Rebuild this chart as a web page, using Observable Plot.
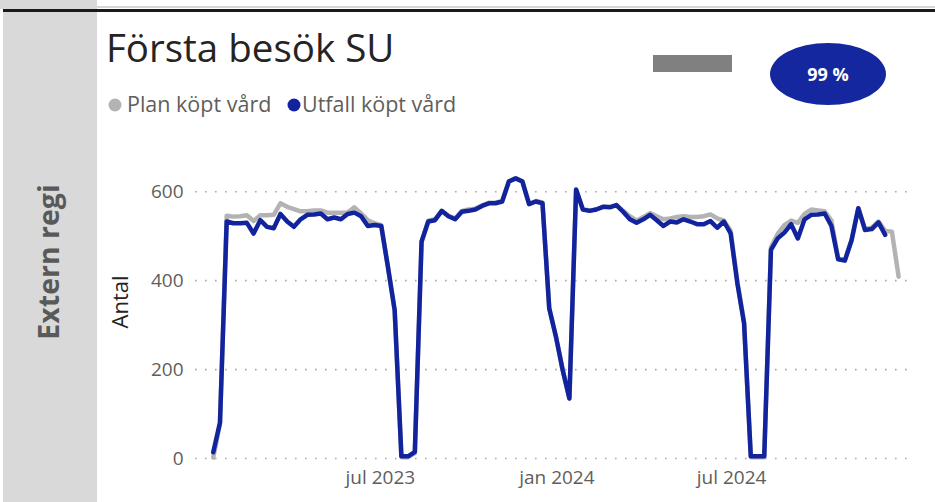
<!DOCTYPE html>
<html><head><meta charset="utf-8">
<script src="https://cdn.jsdelivr.net/npm/d3@7"></script>
<script src="https://cdn.jsdelivr.net/npm/@observablehq/plot@0.6"></script>
<style>
html,body{margin:0;padding:0;width:935px;height:502px;overflow:hidden;background:#fff;font-family:"Open Sans","Segoe UI",sans-serif;}
#page{position:relative;width:935px;height:502px;}
#decor{position:absolute;left:0;top:0;}
#chart{position:absolute;left:97px;top:150px;}
</style></head><body>
<div id="page">
<svg id="decor" width="935" height="502" xmlns="http://www.w3.org/2000/svg">
  <rect x="0" y="0" width="97" height="9" fill="#d9d9d9"/>
  <rect x="97" y="0" width="838" height="6" fill="#ffffff"/>
  <rect x="97" y="6" width="838" height="2" fill="#d6d6d6"/>
  <rect x="3" y="9" width="932" height="3" fill="#1a1a1a"/>
  <rect x="3" y="12" width="94" height="490" fill="#d9d9d9"/>
  <text transform="translate(59,262) rotate(-90)" text-anchor="middle" font-family="Open Sans" font-weight="700" font-size="28.5" fill="#595959">Extern regi</text>
  <text x="106" y="62" font-family="Open Sans" font-weight="400" font-size="38.5" fill="#252423">Första besök SU</text>
  <circle cx="115" cy="105" r="6.5" fill="#b3b3b3"/>
  <text x="127" y="112" font-family="Open Sans" font-size="21.5" fill="#605e5c">Plan köpt vård</text>
  <circle cx="294" cy="105" r="6.5" fill="#12239e"/>
  <text x="302" y="112" font-family="Open Sans" font-size="21.5" fill="#605e5c">Utfall köpt vård</text>
  <rect x="653" y="55" width="79" height="17" fill="#808080"/>
  <ellipse cx="828" cy="74" rx="58" ry="31" fill="#15279e"/>
  <text x="828" y="80.5" text-anchor="middle" font-family="Open Sans" font-weight="700" font-size="18" fill="#ffffff">99 %</text>
  <text transform="translate(128,302) rotate(-90)" text-anchor="middle" font-family="Open Sans" font-size="22" fill="#252423">Antal</text>
</svg>
<div id="chart"></div>
</div>
<script>
// Weekly dates
const weeks = [
"2023-01-08","2023-01-15","2023-01-22","2023-01-29","2023-02-05","2023-02-12","2023-02-19","2023-02-26",
"2023-03-05","2023-03-12","2023-03-19","2023-03-26","2023-04-02","2023-04-09","2023-04-16","2023-04-23","2023-04-30",
"2023-05-07","2023-05-14","2023-05-21","2023-05-28","2023-06-04","2023-06-11","2023-06-18","2023-06-25",
"2023-07-02","2023-07-09","2023-07-16","2023-07-23","2023-07-30","2023-08-06","2023-08-13","2023-08-20","2023-08-27",
"2023-09-03","2023-09-10","2023-09-17","2023-09-24","2023-10-01","2023-10-08","2023-10-15","2023-10-22","2023-10-29",
"2023-11-05","2023-11-12","2023-11-19","2023-11-26","2023-12-03","2023-12-10","2023-12-17","2023-12-24","2023-12-31",
"2024-01-07","2024-01-14","2024-01-21","2024-01-28","2024-02-04","2024-02-11","2024-02-18","2024-02-25",
"2024-03-03","2024-03-10","2024-03-17","2024-03-24","2024-03-31","2024-04-07","2024-04-14","2024-04-21","2024-04-28",
"2024-05-05","2024-05-12","2024-05-19","2024-05-26","2024-06-02","2024-06-09","2024-06-16","2024-06-23","2024-06-30",
"2024-07-07","2024-07-14","2024-07-21","2024-07-28","2024-08-04","2024-08-11","2024-08-18","2024-08-25",
"2024-09-01","2024-09-08","2024-09-15","2024-09-22","2024-09-29","2024-10-06","2024-10-13","2024-10-20","2024-10-27",
"2024-11-03","2024-11-10","2024-11-17","2024-11-24","2024-12-01","2024-12-08","2024-12-15","2024-12-22"
];
// Plan köpt vård (grey)
const plan = [
2,78,546,544,545,547,534,547,547,548,574,566,561,556,556,558,558,553,553,553,553,565,551,536,529,
525,432,330,3,3,12,486,535,538,556,546,540,557,560,562,569,575,575,580,624,630,624,573,579,576,
338,274,199,135,604,561,558,560,566,566,570,557,545,535,543,552,545,538,540,543,545,543,543,545,
549,540,535,512,398,306,3,3,3,475,505,525,535,530,550,560,558,556,535,450,447,492,563,516,519,
533,512,510,409
];
// Utfall köpt vård (blue)
const utfall = [
14,81,533,529,529,530,506,536,521,518,550,533,521,538,548,549,551,538,542,538,550,553,545,523,525,
523,430,334,5,5,15,488,533,536,557,545,538,555,557,560,568,574,574,578,623,630,623,572,578,574,
338,274,199,135,605,560,557,560,566,565,570,555,538,530,538,548,536,523,533,531,538,533,527,527,
534,519,533,506,394,304,5,5,5,469,495,508,527,495,538,548,549,551,523,448,445,491,563,514,516,
531,503
];
const yTicks = [0, 200, 400, 600];
const xTickDates = ["2023-07-01", "2024-01-01", "2024-07-01"];
const xTickLabels = ["jul 2023", "jan 2024", "jul 2024"];

const planData = plan.map((v, i) => ({date: new Date(weeks[i]), value: v}));
const utfallData = utfall.map((v, i) => ({date: new Date(weeks[i]), value: v}));
const tickDates = xTickDates.map(d => new Date(d));

const chart = Plot.plot({
  width: 838,
  height: 352,
  marginLeft: 98,
  marginRight: 22,
  marginTop: 19,
  marginBottom: 44,
  style: {fontFamily: "Open Sans", fontSize: "19px", color: "#605e5c", background: "transparent"},
  x: {type: "utc", domain: [new Date("2022-12-20T12:00Z"), new Date("2025-01-06T12:00Z")]},
  y: {domain: [0, 650]},
  marks: [
    Plot.gridY(yTicks, {stroke: "#a8a8a8", strokeOpacity: 1, strokeWidth: 1.6, strokeDasharray: "1.6,8.4"}),
    Plot.axisY(yTicks, {tickSize: 0, tickPadding: 12, label: null, fontSize: 19}),
    Plot.axisX(tickDates, {tickSize: 0, tickPadding: 12, label: null, fontSize: 19,
      tickFormat: d => xTickLabels[tickDates.findIndex(t => +t === +d)]}),
    Plot.line(planData, {x: "date", y: "value", stroke: "#b3b3b3", strokeWidth: 4.5}),
    Plot.line(utfallData, {x: "date", y: "value", stroke: "#12239e", strokeWidth: 4.5})
  ]
});
document.getElementById("chart").appendChild(chart);
</script>
</body></html>
